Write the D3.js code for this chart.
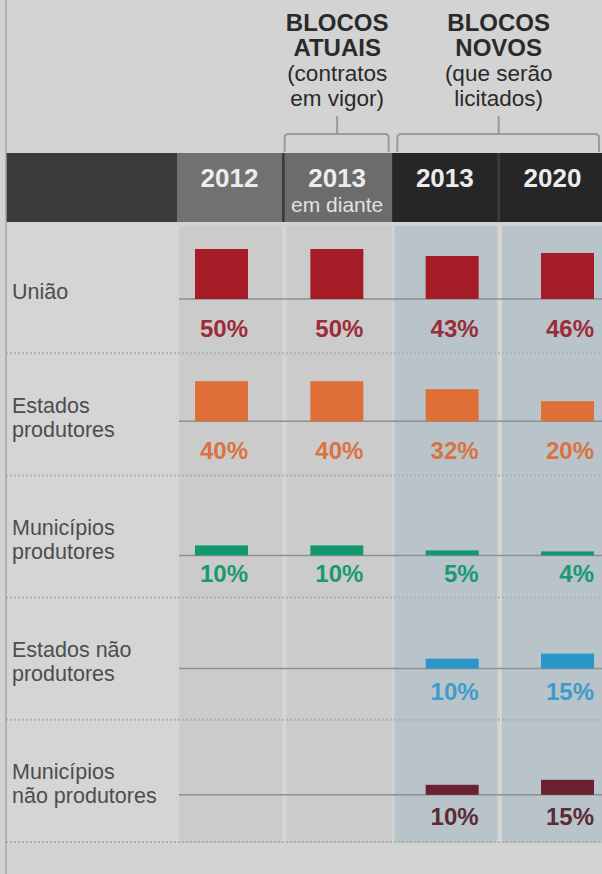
<!DOCTYPE html>
<html>
<head>
<meta charset="utf-8">
<script src="https://cdn.jsdelivr.net/npm/d3@7"></script>
<style>
  body { margin: 0; background: #d3d3d3; }
  svg { display: block; font-family: "Liberation Sans", Arial, sans-serif; }
</style>
</head>
<body>
<div id="chart"></div>
<script>
// columns (header)
var columns   = ["2012", "2013a", "2013n", "2020"];
var colYears  = ["2012", "2013", "2013", "2020"];
var colSub    = ["", "em diante", "", ""];
var colGroups = ["atuais", "atuais", "novos", "novos"];

// rows
var categories = ["União", "Estados produtores", "Municípios produtores", "Estados não produtores", "Municípios não produtores"];
var categoryLines = [["União"], ["Estados", "produtores"], ["Municípios", "produtores"], ["Estados não", "produtores"], ["Municípios", "não produtores"]];

// shares in %, per column
var uniao          = [50, 50, 43, 46];
var estadosProd    = [40, 40, 32, 20];
var municipiosProd = [10, 10, 5, 4];
var estadosNao     = [null, null, 10, 15];
var municipiosNao  = [null, null, 10, 15];

// top annotations
var blocoAtuais = ["BLOCOS", "ATUAIS", "(contratos", "em vigor)"];
var blocoNovos  = ["BLOCOS", "NOVOS", "(que serão", "licitados)"];

var barColors  = ["#a61c26", "#e06f37", "#12986f", "#2b97c9", "#6a2131"];
var textColors = ["#9b2d39", "#d97343", "#1a9873", "#3d9ccb", "#5d2b38"];

var series = [uniao, estadosProd, municipiosProd, estadosNao, municipiosNao];

var width = 602, height = 874;
var headTop = 153, headBottom = 222, bodyTop = 226, bodyBottom = 843;

// layout tweaks per row (baseline inside row, value label below baseline)
var baseOffset  = [68, 68, 80, 71, 75];
var labelOffset = [38, 38, 27, 31, 30];

var svg = d3.select("#chart").append("svg")
    .attr("width", width)
    .attr("height", height);

svg.append("rect").attr("width", width).attr("height", height).attr("fill", "#d3d3d3");

// scales
var xCell = d3.scaleBand().domain(columns).range([177, 605]).paddingInner(0.025);
var xBar = d3.scaleBand().domain(columns).range([195, 594]).paddingInner(0.5405).paddingOuter(0);
var yRow = d3.scaleBand().domain(categories).range([231, 842]);
var h = d3.scaleLinear().domain([0, 50]).range([0, 50]);

function cellWidth(d, i) {
  // no gap where the block changes (atuais -> novos)
  if (i < columns.length - 1 && colGroups[i] !== colGroups[i + 1]) return xCell(columns[i + 1]) - xCell(d);
  return xCell.bandwidth();
}

// header band
svg.append("rect")
    .attr("x", 6).attr("y", headTop)
    .attr("width", width - 6).attr("height", headBottom - headTop)
    .attr("fill", "#3b3b3b");

var headFill = ["#717171", "#6c6c6c", "#262626", "#262626"];
svg.append("g").selectAll("rect")
  .data(columns)
  .enter().append("rect")
    .attr("x", function(d){ return xCell(d) })
    .attr("y", headTop)
    .attr("width", cellWidth)
    .attr("height", headBottom - headTop)
    .attr("fill", function(d, i){ return headFill[i] });

svg.append("g").selectAll("text")
  .data(columns)
  .enter().append("text")
    .attr("x", function(d){ return xCell(d) + xCell.bandwidth() / 2 })
    .attr("y", 187)
    .attr("text-anchor", "middle")
    .attr("font-size", 26)
    .attr("font-weight", "bold")
    .attr("fill", "#ececec")
    .text(function(d, i){ return colYears[i] });

svg.append("g").selectAll("text")
  .data(columns.filter(function(d, i){ return colSub[i] }))
  .enter().append("text")
    .attr("x", function(d){ return xCell(d) + xCell.bandwidth() / 2 })
    .attr("y", 212)
    .attr("text-anchor", "middle")
    .attr("font-size", 21)
    .attr("fill", "#e2e2e2")
    .text(function(d){ return colSub[columns.indexOf(d)] });

// body columns
svg.append("rect")
    .attr("x", 6).attr("y", bodyTop).attr("width", width).attr("height", bodyBottom - bodyTop)
    .attr("fill", "#d5d5d5");

svg.append("g").selectAll("rect")
  .data(columns)
  .enter().append("rect")
    .attr("x", function(d){ return xCell(d) + 2 })
    .attr("y", bodyTop)
    .attr("width", function(d, i){ return cellWidth(d, i) - 2 })
    .attr("height", bodyBottom - bodyTop)
    .attr("fill", function(d, i){ return colGroups[i] === "novos" ? "#b8c4c9" : "#cbcbcb" });

// dotted row separators
svg.append("g").selectAll("line")
  .data(categories)
  .enter().append("line")
    .attr("x1", 6).attr("x2", width)
    .attr("y1", function(d){ return yRow(d) + yRow.bandwidth() })
    .attr("y2", function(d){ return yRow(d) + yRow.bandwidth() })
    .attr("stroke", "#b0b0b0")
    .attr("stroke-width", 2)
    .attr("stroke-dasharray", "2,2");

function baseY(i) { return yRow(categories[i]) + baseOffset[i]; }

// row baselines
svg.append("g").selectAll("line")
  .data(categories)
  .enter().append("line")
    .attr("x1", xCell(columns[0]) + 2).attr("x2", width)
    .attr("y1", function(d, i){ return baseY(i) })
    .attr("y2", function(d, i){ return baseY(i) })
    .attr("stroke", "#8f8f8f")
    .attr("stroke-width", 1.5);

// row labels
categories.forEach(function(cat, i) {
  var lines = categoryLines[i];
  var cy = yRow(cat) + yRow.bandwidth() / 2;
  var first = lines.length === 1 ? cy + 7 : cy - 1.5;
  svg.append("g").selectAll("text")
    .data(lines)
    .enter().append("text")
      .attr("x", 12)
      .attr("y", function(d, j){ return first + j * 24 })
      .attr("font-size", 21.5)
      .attr("fill", "#4d4d4d")
      .text(function(d){ return d });
});

// bars and value labels
series.forEach(function(vals, i) {
  var data = columns.map(function(c, j){ return {col: c, v: vals[j]} })
    .filter(function(d){ return d.v != null });
  var g = svg.append("g");
  g.selectAll("rect")
    .data(data)
    .enter().append("rect")
      .attr("x", function(d){ return xBar(d.col) })
      .attr("y", function(d){ return baseY(i) - h(d.v) })
      .attr("width", xBar.bandwidth())
      .attr("height", function(d){ return h(d.v) })
      .attr("fill", barColors[i]);
  g.selectAll("text")
    .data(data)
    .enter().append("text")
      .attr("x", function(d){ return xBar(d.col) + xBar.bandwidth() })
      .attr("y", baseY(i) + labelOffset[i])
      .attr("text-anchor", "end")
      .attr("font-size", 24)
      .attr("font-weight", "bold")
      .attr("fill", textColors[i])
      .text(function(d){ return d.v + "%" });
});

// top annotations with brackets
var blocks = [
  {lines: blocoAtuais, cx: xCell("2013a") + xCell.bandwidth() / 2, x0: xCell("2013a"), x1: xCell("2013a") + xCell.bandwidth() - 1},
  {lines: blocoNovos, cx: (xCell("2013n") + xCell("2020") + xCell.bandwidth()) / 2, x0: xCell("2013n") + 5, x1: width - 3}
];
var lineY = [31, 56, 81, 106];

blocks.forEach(function(b) {
  svg.append("g").selectAll("text")
    .data(b.lines)
    .enter().append("text")
      .attr("x", b.cx)
      .attr("y", function(d, j){ return lineY[j] })
      .attr("text-anchor", "middle")
      .attr("font-size", function(d, j){ return j < 2 ? 24 : 22.5 })
      .attr("font-weight", function(d, j){ return j < 2 ? "bold" : "normal" })
      .attr("fill", "#2a2a2a")
      .text(function(d){ return d });

  var yb = 134;
  svg.append("path")
    .attr("d", "M" + b.x0 + "," + (headTop - 1) + "V" + (yb + 4) + "Q" + b.x0 + "," + yb + " " + (b.x0 + 4) + "," + yb +
               "H" + (b.x1 - 4) + "Q" + b.x1 + "," + yb + " " + b.x1 + "," + (yb + 4) + "V" + (headTop - 1) +
               "M" + b.cx + "," + yb + "V" + 116)
    .attr("fill", "none")
    .attr("stroke", "#9b9b9b")
    .attr("stroke-width", 2);
});

// left border
svg.append("line")
    .attr("x1", 6).attr("x2", 6).attr("y1", 0).attr("y2", height)
    .attr("stroke", "#a5a5a5")
    .attr("stroke-width", 1.5);
</script>
</body>
</html>
